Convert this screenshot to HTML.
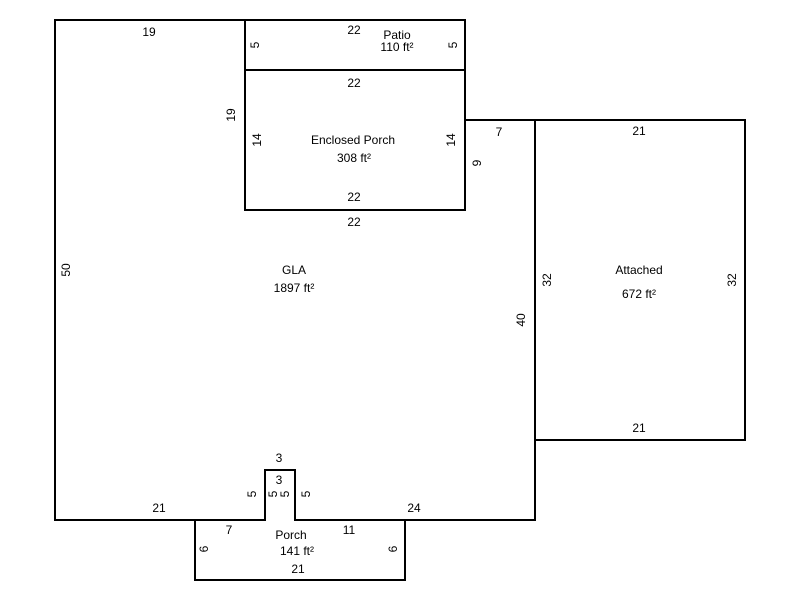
<!DOCTYPE html>
<html><head><style>
html,body{margin:0;padding:0;background:#fff;width:800px;height:600px;overflow:hidden}
text{font-family:"Liberation Sans",Arial,sans-serif;font-size:12px;fill:#000;text-anchor:middle;dominant-baseline:central}
</style></head><body>
<svg width="800" height="600" xmlns="http://www.w3.org/2000/svg">
<g fill="none" stroke="#000" stroke-width="2">
<path d="M55,20 H245 V210 H465 V120 H535 V520 H295 V470 H265 V520 H55 Z"/>
<rect x="245" y="20" width="220" height="50"/>
<rect x="245" y="70" width="220" height="140"/>
<rect x="535" y="120" width="210" height="320"/>
<path d="M265,520 H195 V580 H405 V520 H295"/>
</g>
<text x="149" y="32">19</text>
<text x="354" y="30">22</text>
<text x="397" y="35">Patio</text>
<text x="397" y="47">110 ft²</text>
<text x="354" y="83">22</text>
<text x="353" y="140">Enclosed Porch</text>
<text x="354" y="158">308 ft²</text>
<text x="354" y="197">22</text>
<text x="354" y="222">22</text>
<text x="499" y="132">7</text>
<text x="639" y="131">21</text>
<text x="639" y="270">Attached</text>
<text x="639" y="294">672 ft²</text>
<text x="639" y="428">21</text>
<text x="294" y="270">GLA</text>
<text x="294" y="288">1897 ft²</text>
<text x="279" y="458">3</text>
<text x="279" y="480">3</text>
<text x="159" y="508">21</text>
<text x="414" y="508">24</text>
<text x="229" y="530">7</text>
<text x="349" y="530">11</text>
<text x="291" y="535">Porch</text>
<text x="297" y="551">141 ft²</text>
<text x="298" y="569">21</text>
<g>
<text transform="translate(255,45) rotate(-90)">5</text>
<text transform="translate(453,45) rotate(-90)">5</text>
<text transform="translate(231,115) rotate(-90)">19</text>
<text transform="translate(257,140) rotate(-90)">14</text>
<text transform="translate(451,140) rotate(-90)">14</text>
<text transform="translate(477,163) rotate(-90)">9</text>
<text transform="translate(66,270) rotate(-90)">50</text>
<text transform="translate(547,280) rotate(-90)">32</text>
<text transform="translate(732,280) rotate(-90)">32</text>
<text transform="translate(521,320) rotate(-90)">40</text>
<text transform="translate(252,494) rotate(-90)">5</text>
<text transform="translate(273,494) rotate(-90)">5</text>
<text transform="translate(285,494) rotate(-90)">5</text>
<text transform="translate(306,494) rotate(-90)">5</text>
<text transform="translate(204,549) rotate(-90)">6</text>
<text transform="translate(393,549) rotate(-90)">6</text>
</g>
</svg>
</body></html>
